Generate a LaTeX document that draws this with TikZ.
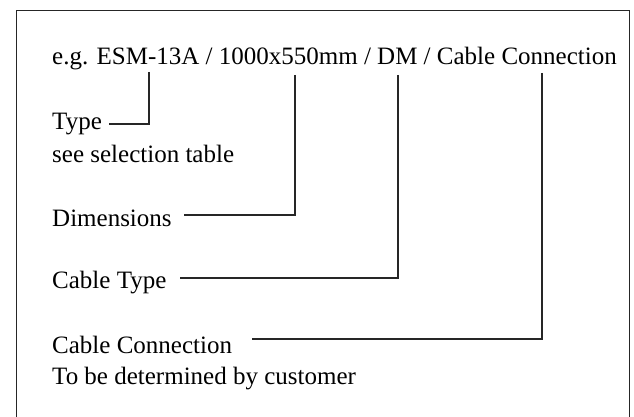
\documentclass[tikz,border=0pt]{standalone}
\usepackage{fontspec}
\setmainfont{Liberation Serif}
\begin{document}
\begin{tikzpicture}[x=1pt,y=-1pt,
  lbl/.style={anchor=base west, inner sep=0pt, font=\fontsize{25}{30}\selectfont},
  frame/.style={line width=1.4pt, draw=black!85},
  lead/.style={line width=1.2pt, draw=black!85}]
\useasboundingbox (0,0) rectangle (634,417);
% open frame (no bottom edge)
\draw[frame] (16.7,417) -- (16.7,10.7) -- (629.5,10.7) -- (629.5,417);

% ordering code and its parts
\node[lbl] (code) at (52,65) {e.g. ESM-13A / 1000x550mm / DM / Cable Connection};
\node[lbl] (type) at (52,130) {Type};
\node[lbl] (typenote) at (52,162) {see selection table};
\node[lbl] (dim) at (52,226) {Dimensions};
\node[lbl] (ctype) at (52,288) {Cable Type};
\node[lbl] (cconn) at (52,353) {Cable Connection};
\node[lbl] (cnote) at (52,384) {To be determined by customer};

% drop points below the code
\coordinate (pType) at (149,72);
\coordinate (pDim) at (295,75);
\coordinate (pCT) at (398,75);
\coordinate (pCC) at (542,73);

\draw[lead] (pType) |- ([xshift=7pt,yshift=6pt]type.base east);
\draw[lead] (pDim) |- ([xshift=12pt,yshift=11pt]dim.base east);
\draw[lead] (pCT) |- ([xshift=13pt,yshift=10pt]ctype.base east);
\draw[lead] (pCC) |- ([xshift=20pt,yshift=14pt]cconn.base east);
\end{tikzpicture}
\end{document}
